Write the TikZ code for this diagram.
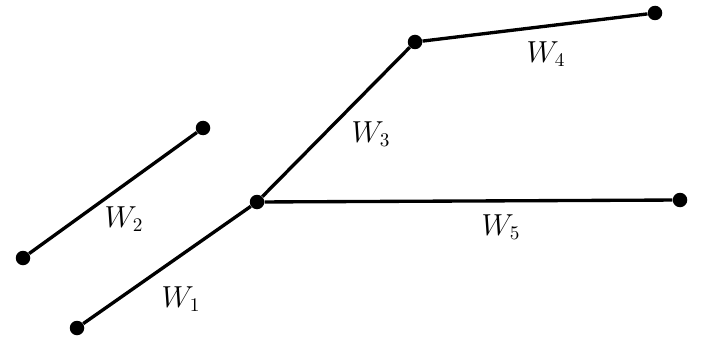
\documentclass[tikz,border=0pt]{standalone}
\usepackage{tikz}
\tikzset{
  dot/.style={circle, fill=black, inner sep=0pt, minimum size=2.9mm},
  wire/.style={line width=1.9pt},
  wlabel/.style={font=\fontsize{16}{19}\selectfont}
}

\begin{document}
\begin{tikzpicture}
    \useasboundingbox (0,0) rectangle (14.18,6.78);
    % end points
    \node[dot] (a) at (1.54,0.22) {};
    \node[dot] (b) at (5.14,2.74) {};
    \node[dot] (c) at (8.30,5.94) {};
    \node[dot] (d) at (13.10,6.52) {};
    \node[dot] (e) at (13.60,2.78) {};
    \node[dot] (f) at (0.46,1.62) {};
    \node[dot] (g) at (4.06,4.22) {};
    % wires
    \draw[wire] (a) -- (b);
    \draw[wire] (b) -- (c);
    \draw[wire] (c) -- (d);
    \draw[wire] (b) -- (e);
    \draw[wire] (f) -- (g);
    % labels
    \node[wlabel] (w1) at (3.62,0.80) {$W_1$};
    \node[wlabel] (w2) at (2.48,2.40) {$W_2$};
    \node[wlabel] (w3) at (7.42,4.10) {$W_3$};
    \node[wlabel] (w4) at (10.92,5.70) {$W_4$};
    \node[wlabel] (w5) at (10.02,2.24) {$W_5$};
\end{tikzpicture}
\end{document}
